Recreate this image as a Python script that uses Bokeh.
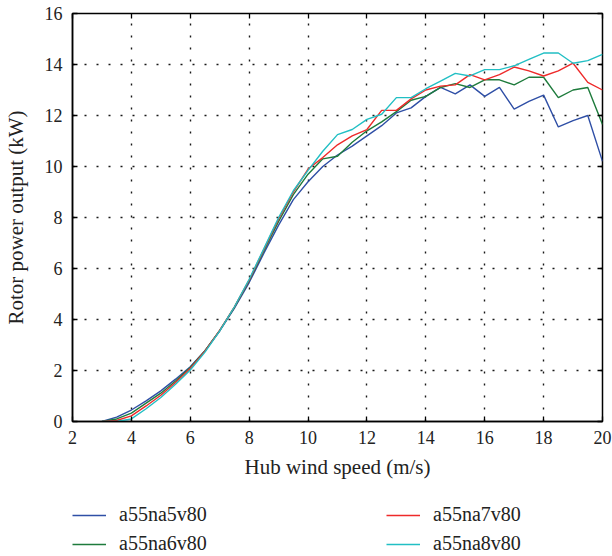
from bokeh.plotting import figure
from bokeh.layouts import column
from bokeh.models import Range1d, LinearAxis, Legend, LegendItem, FixedTicker
from bokeh.embed import file_html
from bokeh.resources import INLINE

# ---- data ----
wind_speed = [3.0, 3.5, 4.0, 4.5, 5.0, 5.5, 6.0, 6.5, 7.0, 7.5, 8.0, 8.5, 9.0, 9.5,
              10.0, 10.5, 11.0, 11.5, 12.0, 12.5, 13.0, 13.5, 14.0, 14.5, 15.0, 15.5,
              16.0, 16.5, 17.0, 17.5, 18.0, 18.5, 19.0, 19.5, 20.0]

a55na5v80 = [0.0, 0.17, 0.45, 0.81, 1.20, 1.66, 2.15, 2.78, 3.55, 4.45, 5.45, 6.60, 7.70, 8.70,
             9.40, 10.0, 10.45, 10.80, 11.20, 11.60, 12.10, 12.30, 12.75, 13.10, 12.85, 13.20,
             12.75, 13.10, 12.25, 12.55, 12.80, 11.55, 11.80, 12.00, 10.20]
a55na6v80 = [0.0, 0.10, 0.33, 0.72, 1.11, 1.59, 2.12, 2.78, 3.57, 4.48, 5.52, 6.70, 7.85, 8.90,
             9.70, 10.30, 10.40, 10.95, 11.40, 11.75, 12.15, 12.60, 12.75, 13.10, 13.25, 13.10,
             13.40, 13.40, 13.20, 13.50, 13.50, 12.70, 13.00, 13.10, 11.65]
a55na7v80 = [0.0, 0.04, 0.22, 0.61, 1.03, 1.53, 2.08, 2.76, 3.57, 4.50, 5.55, 6.75, 7.95, 9.00,
             9.90, 10.35, 10.85, 11.20, 11.45, 12.20, 12.20, 12.65, 13.00, 13.15, 13.20, 13.60,
             13.40, 13.60, 13.90, 13.75, 13.55, 13.75, 14.05, 13.30, 13.00]
a55na8v80 = [0.0, 0.0, 0.10, 0.50, 0.94, 1.46, 2.02, 2.72, 3.55, 4.50, 5.58, 6.78, 8.00, 9.05,
             9.85, 10.60, 11.25, 11.45, 11.85, 12.05, 12.70, 12.70, 13.05, 13.35, 13.65, 13.55,
             13.80, 13.80, 13.95, 14.20, 14.45, 14.45, 14.05, 14.15, 14.40]

series_names = ["a55na5v80", "a55na6v80", "a55na7v80", "a55na8v80"]
series_values = [a55na5v80, a55na6v80, a55na7v80, a55na8v80]
series_colors = ["#2f4fa6", "#1e7b3c", "#ee2a2a", "#22bfc4"]

x_ticks = [2, 4, 6, 8, 10, 12, 14, 16, 18, 20]
y_ticks = [0, 2, 4, 6, 8, 10, 12, 14, 16]

FONT = "Liberation Serif"

p = figure(width=612, height=485,
           x_range=Range1d(2, 20), y_range=Range1d(0, 16),
           output_backend="svg", toolbar_location=None,
           min_border_left=72, min_border_right=10, min_border_top=13, min_border_bottom=64)
p.background_fill_color = "white"
p.border_fill_color = "white"
p.outline_line_color = "black"
p.outline_line_width = 1.5

# axes
for ax, ticks in ((p.xaxis[0], x_ticks), (p.yaxis[0], y_ticks)):
    ax.ticker = FixedTicker(ticks=ticks)
    ax.major_tick_in = 5
    ax.major_tick_out = 0
    ax.minor_tick_line_color = None
    ax.axis_line_color = "black"
    ax.axis_line_width = 1.5
    ax.major_tick_line_width = 1.3
    ax.major_label_text_font = FONT
    ax.major_label_text_font_size = "18px"
    ax.major_label_text_color = "#222222"
    ax.axis_label_text_font = FONT
    ax.axis_label_text_font_size = "21px"
    ax.axis_label_text_font_style = "normal"
    ax.axis_label_text_color = "#222222"

p.xaxis.axis_label = "Hub wind speed (m/s)"
p.yaxis.axis_label = "Rotor power output (kW)"
p.xaxis.major_label_standoff = 9
p.xaxis.axis_label_standoff = 8
p.yaxis.major_label_standoff = 10
p.yaxis.axis_label_standoff = 14

# mirrored tick-only axes on top and right
top_ax = LinearAxis(ticker=FixedTicker(ticks=x_ticks), major_tick_in=5, major_tick_out=0,
                    minor_tick_line_color=None, axis_line_color=None,
                    major_tick_line_width=1.3, major_label_text_font_size="1px",
                    major_label_text_color=None, major_label_standoff=0)
right_ax = LinearAxis(ticker=FixedTicker(ticks=y_ticks), major_tick_in=5, major_tick_out=0,
                      minor_tick_line_color=None, axis_line_color=None,
                      major_tick_line_width=1.3, major_label_text_font_size="1px",
                      major_label_text_color=None, major_label_standoff=0)
p.add_layout(top_ax, "above")
p.add_layout(right_ax, "right")

# grid
for g in (p.xgrid[0], p.ygrid[0]):
    g.grid_line_color = "black"
    g.grid_line_width = 1.4
    g.grid_line_dash = "2 10"
    g.grid_line_alpha = 0.9

for name, vals, col in zip(series_names, series_values, series_colors):
    p.line(wind_speed, vals, line_color=col, line_width=1.4)

# legend strip below the chart (same series, drawn outside its own view range)
lf = figure(width=612, height=71, x_range=Range1d(100, 101), y_range=Range1d(100, 101),
            x_axis_type=None, y_axis_type=None, output_backend="svg", toolbar_location=None,
            min_border=0)
lf.outline_line_color = None
lf.background_fill_color = "white"
lf.border_fill_color = "white"
leg_renderers = []
for name, vals, col in zip(series_names, series_values, series_colors):
    leg_renderers.append(lf.line(wind_speed, vals, line_color=col, line_width=1.6))

order = [0, 2, 1, 3]  # rows: (5,7), (6,8)
legend = Legend(items=[LegendItem(label=series_names[i], renderers=[leg_renderers[i]]) for i in order],
                orientation="horizontal", ncols=2,
                location=(0, 1), margin=0, padding=1,
                glyph_width=34, glyph_height=20, label_standoff=13,
                label_width=261, label_height=20, spacing=6,
                label_text_font=FONT, label_text_font_size="20px", label_text_color="#222222",
                border_line_color=None, background_fill_alpha=0)
lf.add_layout(legend, "center")

layout = column(p, lf, spacing=0)
open("out.html", "w").write(file_html(layout, INLINE))
